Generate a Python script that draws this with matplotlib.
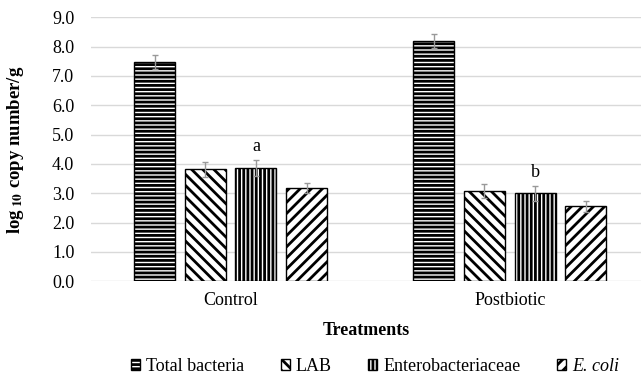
import numpy as np
import matplotlib
matplotlib.use("Agg")
import matplotlib.pyplot as plt

plt.rcParams['font.family'] = ['Liberation Serif', 'DejaVu Serif']
plt.rcParams['mathtext.fontset'] = 'stix'
plt.rcParams['hatch.linewidth'] = 2.0

# data
treatments = ['Control', 'Postbiotic']
groups = ['Total bacteria', 'LAB', 'Enterobacteriaceae', 'E. coli']
means = {
    'Total bacteria': [7.47, 8.20],
    'LAB': [3.82, 3.08],
    'Enterobacteriaceae': [3.87, 3.00],
    'E. coli': [3.17, 2.55],
}
errors = {
    'Total bacteria': [0.23, 0.24],
    'LAB': [0.25, 0.25],
    'Enterobacteriaceae': [0.27, 0.26],
    'E. coli': [0.17, 0.19],
}
letters = ['a', 'b']
hatches = ['----', '\\\\\\', '||||', '///']

fig = plt.figure(figsize=(6.41, 3.74), dpi=100)
ax = fig.add_axes([0.142, 0.248, 0.858, 0.706])

x = np.arange(len(treatments))
width = 0.147
step = 0.1817
for i, g in enumerate(groups):
    pos = x + (i - 1.5) * step
    ax.bar(pos, means[g], width, color='white', edgecolor='black',
           linewidth=1.0, hatch=hatches[i], label=g, zorder=3)
    ax.errorbar(pos, means[g], yerr=errors[g], fmt='none', ecolor='#999999',
                elinewidth=1.0, capsize=2, capthick=1.0, zorder=4)
    if g == 'Enterobacteriaceae':
        for j, lt in enumerate(letters):
            ax.text(pos[j], means[g][j] + errors[g][j] + 0.45, lt,
                    ha='center', va='center', fontsize=13)

ax.set_ylim(0, 9)
ax.set_xlim(-0.5, 1.47)
ax.set_yticks(np.arange(0, 9.1, 1))
ax.set_yticklabels([f'{v:.1f}' for v in np.arange(0, 9.1, 1)])
ax.set_xticks(x)
ax.set_xticklabels(treatments)
ax.tick_params(axis='both', length=0, labelsize=13)
ax.tick_params(axis='y', pad=12)
ax.tick_params(axis='x', pad=8)
ax.grid(axis='y', color='#d9d9d9', linewidth=1.0, zorder=0)
for s in ax.spines.values():
    s.set_visible(False)

ax.set_xlabel('Treatments', fontsize=13, fontweight='bold', labelpad=9)
fig.text(0.024, 0.6, r'log$_{\mathbf{\ 10}}$ copy number/g', rotation=90,
         ha='center', va='center', fontsize=13.5, fontweight='bold')

leg = fig.legend(loc='center', bbox_to_anchor=(0.585, 0.02), ncol=4,
                 frameon=False, fontsize=13, handlelength=0.5,
                 handleheight=0.5, handletextpad=0.35, columnspacing=2.0,
                 borderpad=0)
leg.get_texts()[3].set_style('italic')

fig.savefig('out.png', dpi=100)
